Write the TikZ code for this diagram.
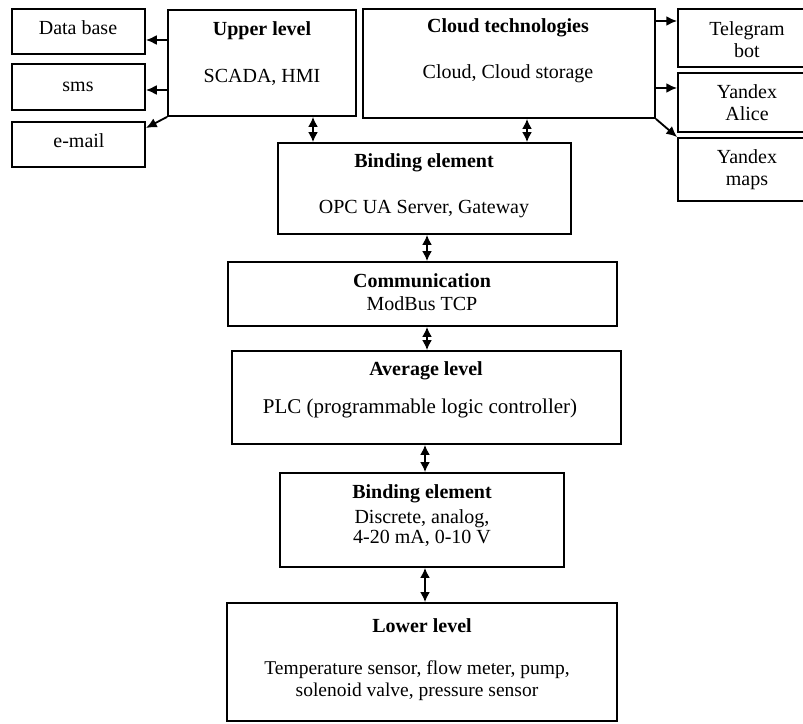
\documentclass[tikz,border=0pt]{standalone}
\usepackage{fontspec}
\setmainfont{Liberation Serif}
\usetikzlibrary{arrows.meta,fit}
\begin{document}
\begin{tikzpicture}[x=0.6pt, y=-0.6pt, font=\fontsize{12}{13.2}\selectfont,
  box/.style={draw, line width=1.1pt, inner sep=0pt, fit={#1}},
  txt/.style={inner sep=0pt, align=center, text height=8pt, text depth=2.5pt},
  txtm/.style={inner sep=0pt, align=center},
  ttl/.style={txt, font=\fontsize{12}{13.2}\selectfont\bfseries},
  arr/.style={line width=1.1pt, -{Latex[length=6.5pt,width=6pt]}},
  darr/.style={line width=1.1pt, {Latex[length=6pt,width=6pt]}-{Latex[length=6pt,width=6pt]}}]
\clip (0,0) rectangle (803,723);
% Left outputs
\node[box={(12,9) (145,54)}] (db) {};
\node[box={(12,64) (145,110)}] (sms) {};
\node[box={(12,122) (145,167)}] (mail) {};
\node[txt] (dbT) at (78,30) {Data base};
\node[txt] (smsT) at (78,87) {sms};
\node[txt] (mailT) at (79,143) {e-mail};
% Upper level
\node[box={(168,10) (356,116)}] (upper) {};
\node[ttl] (upperT) at (262,31) {Upper level};
\node[txt] (upperB) at (262,78) {SCADA, HMI};
% Cloud technologies
\node[box={(363,9) (655,118)}] (cloud) {};
\node[ttl] (cloudT) at (508,28) {Cloud technologies};
\node[txt] (cloudB) at (508,74) {Cloud, Cloud storage};
% Right outputs
\node[box={(678,9) (816,67)}] (tg) {};
\node[box={(678,73) (816,132)}] (alice) {};
\node[box={(678,138) (816,201)}] (maps) {};
\node[txtm] (tgT) at (747,40) {Telegram\\bot};
\node[txtm] (aliceT) at (747,103) {Yandex\\Alice};
\node[txtm] (mapsT) at (747,170) {Yandex\\maps};
% Binding element (top)
\node[box={(278,143) (571,234)}] (bindA) {};
\node[ttl] (bindAT) at (424,163) {Binding element};
\node[txt] (bindAB) at (424,209) {OPC UA Server, Gateway};
% Communication
\node[box={(228,262) (617,326)}] (comm) {};
\node[ttl] (commT) at (422,283) {Communication};
\node[txt] (commB) at (422,306) {ModBus TCP};
% Average level
\node[box={(232,351) (621,444)}] (avg) {};
\node[ttl] (avgT) at (426,371) {Average level};
\node[txt, font=\fontsize{12.6}{14}\selectfont] (avgB) at (420,409) {PLC (programmable logic controller)};
% Binding element (bottom)
\node[box={(280,473) (564,567)}] (bindB) {};
\node[ttl] (bindBT) at (422,494) {Binding element};
\node[txtm, font=\fontsize{12}{12.2}\selectfont] (bindBB) at (422,528) {Discrete, analog,\\4-20 mA, 0-10 V};
% Lower level
\node[box={(227,603) (617,721)}] (lower) {};
\node[ttl] (lowerT) at (422,628) {Lower level};
\node[txtm, font=\fontsize{11.7}{13.2}\selectfont] (lowerB) at (417,681) {Temperature sensor, flow meter, pump,\\solenoid valve, pressure sensor};
% Arrows to outputs
\draw[arr] (upper.west |- 0,40) -- (db.east |- 0,40);
\draw[arr] (upper.west |- 0,90) -- (sms.east |- 0,90);
\draw[arr] (upper.south west) -- (mail.east |- 0,128);
\draw[arr] (cloud.east |- 0,21) -- (tg.west |- 0,21);
\draw[arr] (cloud.east |- 0,88) -- (alice.west |- 0,88);
\draw[arr] (cloud.south east) -- (maps.north west);
% Two-way links
\draw[darr] (upper.south -| 313,0) -- (bindA.north -| 313,0);
\draw[darr] (cloud.south -| 527,0) -- (bindA.north -| 527,0);
\draw[darr] (bindA.south -| 427,0) -- (comm.north -| 427,0);
\draw[darr] (comm.south -| 427,0) -- (avg.north -| 427,0);
\draw[darr] (avg.south -| 425,0) -- (bindB.north -| 425,0);
\draw[darr] (bindB.south -| 425,0) -- (lower.north -| 425,0);
\end{tikzpicture}
\end{document}
